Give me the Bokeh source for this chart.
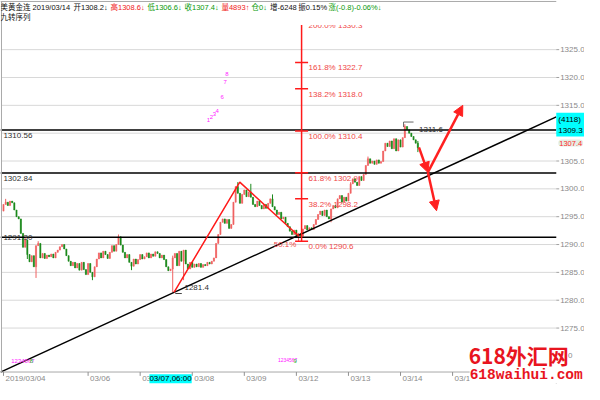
from bokeh.plotting import figure
from bokeh.models import ColumnDataSource, Label, Arrow, NormalHead, Range1d
from bokeh.core.properties import value
from bokeh.embed import file_html
from bokeh.resources import INLINE

# ---------------- data ----------------
first_bar = 9
first_open = 1296.0
closes = [
    1297.2, 1297.6, 1297.0, 1297.8, 1297.5, 1296.2,
    1295.0, 1294.6, 1292.0,
    1289.5, 1290.8, 1288.2,
    1286.9, 1288.0, 1286.0, 1289.8,
    1290.2, 1287.6, 1288.4, 1287.5, 1288.1, 1287.8,
    1288.3, 1287.6, 1288.6, 1289.0, 1289.6, 1290.0, 1289.2,
    1288.0, 1287.0, 1286.2, 1286.8,
    1285.8, 1286.6, 1285.4, 1286.8, 1285.5, 1284.6, 1286.6, 1285.0, 1284.2,
    1286.0, 1287.4, 1288.5, 1287.6, 1288.8, 1288.2, 1287.5,
    1288.6, 1289.8, 1288.8, 1290.0, 1291.4, 1289.9,
    1288.6, 1287.6, 1288.2, 1286.8, 1286.1, 1287.4, 1286.5,
    1287.3, 1288.2, 1287.4, 1287.8, 1288.5, 1287.6, 1288.3, 1287.9, 1288.7,
    1288.4, 1287.6, 1288.1, 1287.3,
    1286.0, 1285.3, 1285.6,
    1287.6,
    1288.4, 1286.2, 1288.8, 1287.0, 1289.0, 1286.5,
    1285.6, 1286.8, 1285.9, 1286.5,
    1286.0, 1286.6, 1285.9, 1286.4, 1286.2, 1286.8, 1286.5, 1287.0, 1287.6,
    1290.2, 1291.8, 1294.0, 1294.6,
    1293.8, 1294.5, 1292.9, 1293.6,
    1297.6, 1300.4, 1299.2,
    1297.4, 1299.0, 1299.8, 1298.6, 1299.4, 1298.5,
    1297.2, 1296.8, 1297.8, 1297.0, 1296.4, 1297.2, 1296.5, 1297.4, 1298.2, 1296.8, 1296.2,
    1295.4, 1295.8, 1294.6, 1294.9, 1293.8, 1293.2, 1292.4,
    1291.8, 1292.6, 1291.6, 1292.0, 1291.5,
    1292.8, 1293.4, 1292.6, 1293.0, 1292.7, 1293.6,
    1294.5, 1295.4, 1296.0, 1295.2, 1296.2,
    1295.0, 1294.6, 1296.4, 1297.0, 1296.6, 1298.2,
    1298.8, 1297.6, 1298.5, 1297.8, 1299.2,
    1300.9, 1301.8,
    1301.2, 1300.6, 1302.2, 1301.5, 1302.6,
    1304.2, 1305.4, 1304.6,
    1305.0, 1304.4, 1305.2, 1304.6, 1304.9,
    1306.8, 1308.2, 1307.6,
    1308.6, 1307.2, 1309.0, 1306.8, 1308.8, 1307.5, 1309.2,
    1311.2, 1310.6,
    1310.0, 1309.4, 1308.8,
    1308.2, 1307.4,
]
wick_high = {10: 1298.2, 19: 1291.2, 25: 1290.6, 62: 1291.8, 87: 1288.0, 117: 1301.2,
             123: 1300.9, 133: 1299.0, 169: 1301.2, 177: 1305.8, 194: 1311.6, 200: 1308.6}
wick_low = {20: 1287.4, 24: 1284.0, 50: 1283.6, 68: 1285.4, 87: 1281.4, 92: 1283.6,
            145: 1290.6, 160: 1294.0, 200: 1306.6}

day_ticks = [9, 48, 72, 96, 120, 144, 168, 192, 216]
day_labels = ["2019/03/04", "03/06", "03/07", "03/08", "03/09", "03/12", "03/13", "03/14", "03/15"]
price_ticks = [1275, 1280, 1285, 1290, 1295, 1300, 1305, 1310, 1315, 1320, 1325]

level_prices = [1310.56, 1302.84, 1291.30]
level_texts = ["1310.56", "1302.84", "1291.30"]

trend_x = [78.06, 205.0]
trend_y = [1279.69, 1302.40]

zigzag_x = [87.6, 117.9, 145.2]
zigzag_y = [1281.4, 1301.2, 1291.5]

fib_x = 146.4
fib_prices = [1290.6, 1298.2, 1302.9, 1310.4, 1318.0, 1322.7, 1330.3]
fib_texts = ["0.0% 1290.6", "38.2% 1298.2", "61.8% 1302.9", "100.0% 1310.4",
             "138.2% 1318.0", "161.8% 1322.7", "200.0% 1330.3"]

arrow_x0 = [200.5, 204.6, 204.6]
arrow_y0 = [1307.45, 1302.97, 1302.97]
arrow_x1 = [204.6, 220.7, 208.6]
arrow_y1 = [1302.97, 1315.0, 1296.07]

# ---------------- candles ----------------
bars = list(range(first_bar, first_bar + len(closes)))
opens = [first_open] + closes[:-1]
highs = [max(o, c, wick_high.get(b, -1e9)) for b, o, c in zip(bars, opens, closes)]
lows = [min(o, c, wick_low.get(b, 1e9)) for b, o, c in zip(bars, opens, closes)]
UP, DOWN = "#f06262", "#1d8a1d"
colors = [UP if c >= o else DOWN for o, c in zip(opens, closes)]
src = ColumnDataSource(dict(x=bars, o=opens, c=closes, h=highs, l=lows,
                            top=[max(o, c) for o, c in zip(opens, closes)],
                            bot=[min(o, c) for o, c in zip(opens, closes)],
                            col=colors))


# reference-pixel -> data helpers (layout only)
def X(px):
    return 48 + (px - 90) / 2.229


def Y(py):
    return 1290 + (254.2 - py) / 5.8


FONT = "Liberation Sans, Noto Sans CJK SC"
AX = X(571)        # right price axis
LEFT = X(1)
BOTTOM = Y(387)    # time axis
TOP = Y(1)

p = figure(width=584, height=384, output_backend="svg", toolbar_location=None,
           x_range=Range1d(X(0), X(600)), y_range=Range1d(Y(400), Y(0)),
           min_border=0, min_border_left=0, min_border_right=0,
           min_border_top=0, min_border_bottom=0)
p.axis.visible = False
p.grid.visible = False
p.outline_line_color = None
p.background_fill_color = "white"
p.border_fill_color = "white"

n_pt = len(price_ticks)
# horizontal grid
p.segment(x0=[LEFT] * n_pt, y0=price_ticks, x1=[AX] * n_pt, y1=price_ticks,
          line_color="#d8d8d8", line_width=1)

# candles
p.segment(x0="x", y0="h", x1="x", y1="l", color="col", line_width=1, source=src)
p.vbar(x="x", width=0.55, top="top", bottom="bot", fill_color="col", line_color="col",
       line_width=0.5, source=src)

# horizontal levels
n_lv = len(level_prices)
p.segment(x0=[X(0)] * n_lv, y0=level_prices, x1=[AX] * n_lv, y1=level_prices,
          line_color="black", line_width=1.5)

# trend line (from the two anchor points, drawn across the chart area)
grad = (trend_y[1] - trend_y[0]) / (trend_x[1] - trend_x[0])
icpt = trend_y[0] - grad * trend_x[0]
p.line([X(0), AX], [icpt + grad * X(0), icpt + grad * AX], line_color="black", line_width=1.5)

# zigzag
p.line(zigzag_x, zigzag_y, line_color="#ff1a1a", line_width=1.5)

# fibonacci
p.segment(x0=[fib_x], y0=[fib_prices[0]], x1=[fib_x], y1=[fib_prices[-1]],
          line_color="#ff1a1a", line_width=1.5)
p.scatter(x=[fib_x] * len(fib_prices), y=fib_prices, marker="dash", size=13,
          line_color="#ff1a1a", line_width=1.5)
p.text(x=[fib_x] * len(fib_prices), y=fib_prices, text=fib_texts, x_offset=7, y_offset=1,
       text_baseline="top", text_align="left", text_font_size="8px",
       text_font=value("Liberation Sans"), text_color="#f04646")

# high / low markers
p.line([zigzag_x[0] + 0.6, zigzag_x[0] + 3.6], [zigzag_y[0] - 0.2] * 2,
       line_color="#444444", line_width=1)
p.line([193.4, 193.4, 198.0], [1311.1, 1312.0, 1312.0], line_color="#666666", line_width=1)

# header band hides the top of the chart
p.quad(left=[X(0)], right=[AX], bottom=[Y(25.5)], top=[Y(0)], fill_color="white",
       line_color=None)

# frame and axes
p.segment(x0=[X(0), X(0)], y0=[TOP, BOTTOM], x1=[AX, AX], y1=[TOP, BOTTOM],
          line_color="#a8a8a8", line_width=1)
p.segment(x0=[LEFT, AX], y0=[BOTTOM, BOTTOM], x1=[LEFT, AX], y1=[TOP, Y(399)],
          line_color="#a8a8a8", line_width=1)
# price axis ticks and labels
p.segment(x0=[AX] * n_pt, y0=price_ticks, x1=[X(574)] * n_pt, y1=price_ticks,
          line_color="#a0a0a0", line_width=1)
p.text(x=[X(575)] * n_pt, y=price_ticks, text=[f"{t:.1f}" for t in price_ticks],
       text_baseline="middle", text_align="left", text_font_size="8px",
       text_font=value("Liberation Sans"), text_color="#8a8a8a")
# time axis ticks and labels
n_dt = len(day_ticks)
p.segment(x0=day_ticks, y0=[BOTTOM] * n_dt, x1=day_ticks, y1=[Y(391)] * n_dt,
          line_color="#909090", line_width=1)
p.text(x=day_ticks, y=[Y(394)] * n_dt, text=day_labels, x_offset=2,
       text_baseline="middle", text_align="left", text_font_size="8px",
       text_font=value("Liberation Sans"), text_color="#8a8a8a")

# arrows
for xa, ya, xb, yb in zip(arrow_x0, arrow_y0, arrow_x1, arrow_y1):
    p.add_layout(Arrow(x_start=xa, y_start=ya, x_end=xb, y_end=yb,
                       line_color="#ff2020", line_width=2.5,
                       end=NormalHead(size=10, fill_color="#ff2020", line_color="#ff2020")))


def lab(px, py, text, color, size="8px", font=FONT, align="left", baseline="middle", **kw):
    p.add_layout(Label(x=X(px), y=Y(py), text=text, text_color=color, text_font_size=size,
                       text_font=font, text_align=align, text_baseline=baseline, **kw))


BLACK, RED, GREEN = "#101010", "#f01818", "#0a9a0a"
header = [(0, "美黄金连", BLACK), (33, "2019/03/14", BLACK), (75, "开1308.2↓", BLACK),
          (113, "高1308.6↓", RED), (151, "低1306.6↓", GREEN), (189, "收1307.4↓", GREEN),
          (227, "量4893↑", RED), (258, "仓0↓", GREEN), (277, "增-6248", BLACK),
          (306, "振0.15%", BLACK), (337, "涨(-0.8)-0.06%↓", GREEN)]
for hx, ht, hc in header:
    lab(hx, 7, ht, hc, size="7.5px")
lab(0, 17.5, "九转序列", BLACK, size="7.5px")

# level labels
for py, t in zip([141, 185.5, 247], level_texts):
    lab(3, py, t, "#303030")

lab(189, 299, "1281.4", "#303030")
lab(430, 134, "1311.6", "#303030")
lab(304, 254, "50.1%", "#f04646", align="right")

# nine-count marks
for d, mx, my in [("1", 212, 124), ("2", 215, 121), ("3", 218, 118), ("4", 221, 115),
                  ("6", 226, 100), ("7", 229, 85), ("8", 231, 77)]:
    lab(mx, my, d, "#ff22ff", size="6px")
lab(11, 376, "1234567", "#ff22ff", size="6px")
lab(30, 376, "8", "#22bb22", size="6px")
lab(285, 374, "1234567", "#ff22ff", size="5px")
lab(301, 375, "9", "#22bb22", size="6px")

# crosshair time box
lab(153, 394, "03/07,06:00", "black", background_fill_color="#00ffff")

# right side boxes
lab(571, 117, "(4118)\n1309.3", "black", baseline="top", background_fill_color="#00ffff",
    padding=2)
lab(573, 148.5, "1307.4", "#ff2a2a", size="7.5px", background_fill_color="#e4eee4",
    padding=1, border_radius=4)
lab(583, 370, "0", "#8a8a8a")

# watermark
lab(481, 354, "618外汇网", "#e8141e", size="21px", font="Noto Sans CJK SC", baseline="top",
    text_font_style="bold")
lab(482, 382, "618waihui.com", "#e8141e", size="14.5px", font="Liberation Mono",
    baseline="top", text_font_style="bold", background_fill_color="white")

open("out.html", "w").write(file_html(p, INLINE))
